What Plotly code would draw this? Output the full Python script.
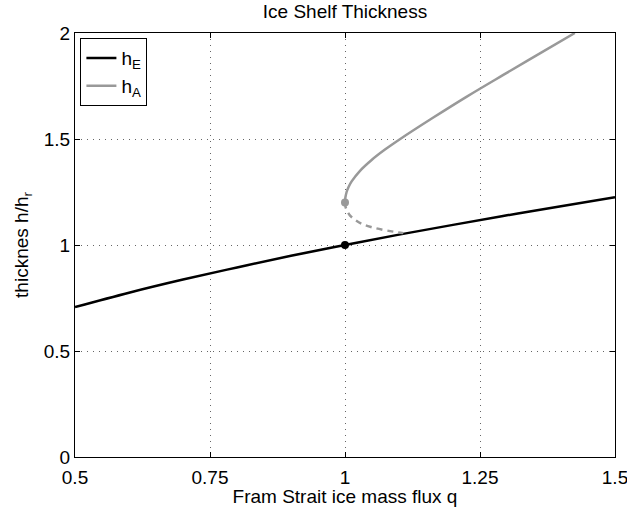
import plotly.graph_objects as go

# Equilibrium thickness h_E
q_E = [0.5, 0.6, 0.7, 0.8, 0.9, 1.0, 1.1, 1.2, 1.3, 1.4, 1.5]
h_E = [0.707, 0.775, 0.837, 0.894, 0.949, 1.0, 1.049, 1.095, 1.140, 1.183, 1.225]

# Alternative branch h_A (upper, stable, solid)
q_A_up = [1.0, 1.0001, 1.0008, 1.003, 1.0068, 1.0123, 1.0278, 1.0488, 1.074,
          1.1023, 1.1628, 1.2256, 1.2916, 1.3586, 1.4256]
h_A_up = [1.2, 1.21, 1.225, 1.25, 1.275, 1.3, 1.35, 1.4, 1.45,
          1.5, 1.6, 1.7, 1.8, 1.9, 2.0]

# Alternative branch h_A (lower, unstable, dashed)
q_A_lo = [1.0, 1.001, 1.004, 1.009, 1.018, 1.031, 1.048, 1.07, 1.092, 1.108]
h_A_lo = [1.2, 1.18, 1.16, 1.14, 1.12, 1.1, 1.085, 1.072, 1.062, 1.056]

# Bifurcation points
q_pts = [1.0, 1.0]
h_pts = [1.0, 1.2]
pt_colors = ["#000000", "#999999"]

x_ticks = [0.5, 0.75, 1, 1.25, 1.5]
x_ticklabels = ["0.5", "0.75", "1", "1.25", "1.5"]
y_ticks = [0, 0.5, 1, 1.5, 2]
y_ticklabels = ["0", "0.5", "1", "1.5", "2"]

FONT = "Liberation Sans, Arial, Helvetica, sans-serif"
GREY = "#999999"
FS = 19

fig = go.Figure()
fig.add_trace(go.Scatter(x=q_E, y=h_E, mode="lines", name="h<sub>E</sub>",
                         line=dict(color="black", width=2.5, shape="spline")))
fig.add_trace(go.Scatter(x=q_A_up, y=h_A_up, mode="lines", name="h<sub>A</sub>",
                         line=dict(color=GREY, width=2.5, shape="spline")))
fig.add_trace(go.Scatter(x=q_A_lo, y=h_A_lo, mode="lines", showlegend=False,
                         line=dict(color=GREY, width=2.5, dash="6px,5px", shape="spline")))
fig.add_trace(go.Scatter(x=q_pts, y=h_pts, mode="markers", showlegend=False,
                         marker=dict(color=pt_colors, size=8)))

axis_common = dict(
    showline=True, linecolor="black", linewidth=1, mirror="ticks",
    ticks="inside", ticklen=5, tickcolor="black", automargin=False,
    ticklabeloverflow="allow",
    showgrid=True, gridcolor="#666666", gridwidth=1, griddash="1px,5px",
    zeroline=False, tickfont=dict(family=FONT, size=FS, color="black"),
)

fig.update_layout(
    width=627, height=507,
    margin=dict(l=75, r=12, t=33, b=50),
    paper_bgcolor="white", plot_bgcolor="white",
    font=dict(family=FONT, size=FS, color="black"),
    title=dict(text="Ice Shelf Thickness", x=345 / 627, xanchor="center",
               y=1 - 11 / 507, yanchor="middle", yref="container",
               font=dict(family=FONT, size=FS, color="black")),
    xaxis=dict(range=[0.5, 1.5], tickvals=x_ticks, ticktext=x_ticklabels,
               ticklabelstandoff=3,
               title=dict(text="Fram Strait ice mass flux q", standoff=0,
                          font=dict(family=FONT, size=FS)),
               **axis_common),
    yaxis=dict(range=[0, 2], tickvals=y_ticks, ticktext=y_ticklabels,
               title=dict(text="thicknes h/h<sub>r</sub>", standoff=10,
                          font=dict(family=FONT, size=FS)),
               **axis_common),
    legend=dict(x=0.01, y=0.988, xanchor="left", yanchor="top",
                bgcolor="white", bordercolor="black", borderwidth=1,
                font=dict(family=FONT, size=FS, color="black"),
                tracegroupgap=0, itemwidth=30),
    showlegend=True,
)

fig.write_html("out.html")
